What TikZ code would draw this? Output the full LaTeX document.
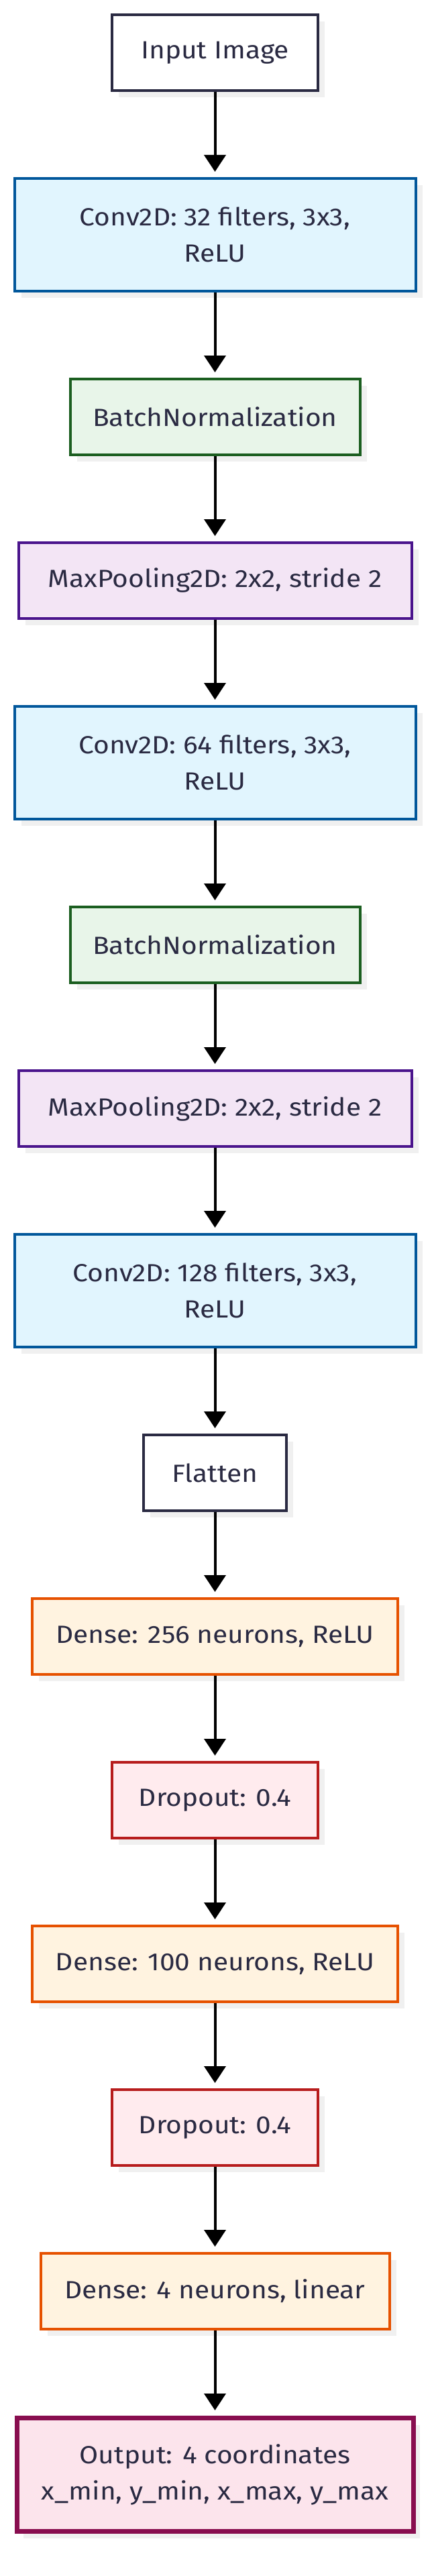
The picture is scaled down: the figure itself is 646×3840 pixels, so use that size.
\documentclass[tikz,border=0pt]{standalone}
\usepackage{fontspec}
\setmainfont{Fira Sans}[FakeStretch=1.1]
\usetikzlibrary{arrows.meta,shadows}
\definecolor{txt}{HTML}{2A2A42}
\definecolor{convf}{HTML}{E1F5FE}\definecolor{convd}{HTML}{01579B}
\definecolor{bnf}{HTML}{E8F5E9}\definecolor{bnd}{HTML}{1B5E20}
\definecolor{mpf}{HTML}{F3E5F5}\definecolor{mpd}{HTML}{4A148C}
\definecolor{dnf}{HTML}{FFF3E0}\definecolor{dnd}{HTML}{E65100}
\definecolor{drf}{HTML}{FFEBEE}\definecolor{drd}{HTML}{B71C1C}
\definecolor{otf}{HTML}{FCE4EC}\definecolor{otd}{HTML}{880E4F}
\definecolor{shd}{HTML}{F0F0F0}
\tikzset{
  layer/.style={rectangle, draw, line width=4pt, inner sep=0pt, align=center,
    text=txt, font=\fontsize{37}{54}\selectfont,
    drop shadow={shadow xshift=10pt, shadow yshift=-10pt, fill=shd, opacity=1}},
  plain/.style={layer, draw=txt, fill=white},
  conv/.style={layer, draw=convd, fill=convf},
  bn/.style={layer, draw=bnd, fill=bnf},
  mp/.style={layer, draw=mpd, fill=mpf},
  dense/.style={layer, draw=dnd, fill=dnf},
  drop/.style={layer, draw=drd, fill=drf},
  outp/.style={layer, draw=otd, fill=otf, line width=7pt},
  one/.style={minimum height=113pt},
  two/.style={minimum height=168pt},
  flow/.style={line width=4pt, draw=black, -{Triangle[width=32pt,length=25pt]}, shorten >=8pt}
}
\begin{document}
\begin{tikzpicture}[x=1pt,y=1pt]
\useasboundingbox (0,0) rectangle (646,-3840);
\node[plain,one,minimum width=307pt] (in) at (320.5,-78.5) {Input Image};
\node[conv,two,minimum width=598pt] (c1) at (320.5,-350) {Conv2D: 32 filters, 3x3,\\ReLU};
\node[bn,one,minimum width=432pt] (b1) at (320.5,-621.5) {BatchNormalization};
\node[mp,one,minimum width=586pt] (m1) at (320.5,-865.5) {MaxPooling2D: 2x2, stride 2};
\node[conv,two,minimum width=598pt] (c2) at (320.5,-1137) {Conv2D: 64 filters, 3x3,\\ReLU};
\node[bn,one,minimum width=432pt] (b2) at (320.5,-1408.5) {BatchNormalization};
\node[mp,one,minimum width=586pt] (m2) at (320.5,-1652.5) {MaxPooling2D: 2x2, stride 2};
\node[conv,two,minimum width=598pt] (c3) at (320.5,-1924) {Conv2D: 128 filters, 3x3,\\ReLU};
\node[plain,one,minimum width=213pt] (fl) at (320.5,-2195.5) {Flatten};
\node[dense,one,minimum width=545pt] (d1) at (320.5,-2439.5) {Dense: 256 neurons, ReLU};
\node[drop,one,minimum width=307pt] (r1) at (320.5,-2683.5) {Dropout: 0.4};
\node[dense,one,minimum width=545pt] (d2) at (320.5,-2927.5) {Dense: 100 neurons, ReLU};
\node[drop,one,minimum width=307pt] (r2) at (320.5,-3171.5) {Dropout: 0.4};
\node[dense,one,minimum width=520pt] (d3) at (320.5,-3415.5) {Dense: 4 neurons, linear};
\node[outp,minimum height=169pt,minimum width=591pt] (out) at (320.5,-3689) {Output: 4 coordinates\\x\_min, y\_min, x\_max, y\_max};
\draw[flow] (in) -- (c1);
\draw[flow] (c1) -- (b1);
\draw[flow] (b1) -- (m1);
\draw[flow] (m1) -- (c2);
\draw[flow] (c2) -- (b2);
\draw[flow] (b2) -- (m2);
\draw[flow] (m2) -- (c3);
\draw[flow] (c3) -- (fl);
\draw[flow] (fl) -- (d1);
\draw[flow] (d1) -- (r1);
\draw[flow] (r1) -- (d2);
\draw[flow] (d2) -- (r2);
\draw[flow] (r2) -- (d3);
\draw[flow] (d3) -- (out);
\end{tikzpicture}
\end{document}
